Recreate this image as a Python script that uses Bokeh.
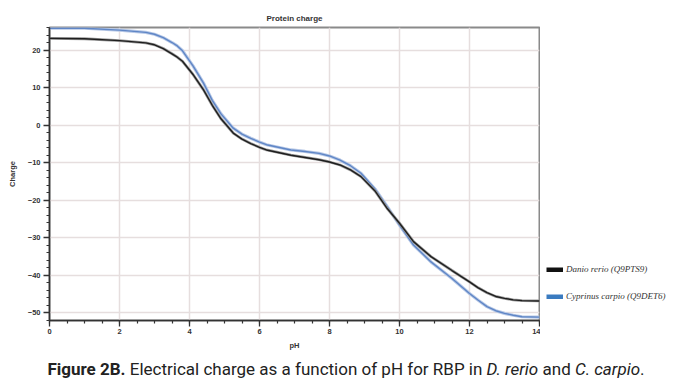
from bokeh.plotting import figure
from bokeh.models import (Range1d, FixedTicker, Legend, LegendItem, ColumnDataSource, Div)
from bokeh.layouts import column, row
from bokeh.embed import file_html
from bokeh.resources import INLINE

# ---- data ----
ph = [0, 1, 2, 2.5, 2.75, 3, 3.25, 3.5, 3.65, 3.8, 4.1, 4.4, 4.65, 4.9, 5.25,
      5.5, 5.75, 6.0, 6.2, 6.9, 7.3, 7.7, 8.0, 8.3, 8.6, 8.9, 9.3, 9.65, 10,
      10.4, 10.9, 11.5, 12, 12.25, 12.5, 12.75, 13, 13.25, 13.5, 14]
danio = [23.1, 23.0, 22.5, 22.1, 21.9, 21.4, 20.4, 19.0, 18.1, 17.0, 13.5,
         9.4, 5.3, 1.7, -2.1, -3.7, -4.9, -5.9, -6.6, -8.0, -8.6, -9.2, -9.8,
         -10.6, -11.9, -13.7, -17.5, -22.2, -26.1, -31.0, -35.0, -38.7, -41.7,
         -43.3, -44.6, -45.6, -46.1, -46.5, -46.7, -46.8]
cyprinus = [25.8, 25.8, 25.3, 24.9, 24.7, 24.2, 23.3, 22.0, 21.1, 19.8, 15.8,
            11.2, 6.6, 3.0, -0.8, -2.4, -3.5, -4.5, -5.2, -6.6, -7.0, -7.5,
            -8.2, -9.3, -10.8, -12.8, -17.0, -21.7, -26.6, -31.9, -36.4, -40.8,
            -44.8, -46.6, -48.3, -49.4, -50.1, -50.6, -51.0, -51.1]
x_ticks = [0, 2, 4, 6, 8, 10, 12, 14]
y_ticks = [-50, -40, -30, -20, -10, 0, 10, 20]
series_names = ["Danio rerio (Q9PTS9)", "Cyprinus carpio (Q9DET6)"]

p = figure(output_backend="svg", toolbar_location=None,
           frame_width=490, frame_height=293,
           min_border_left=49, min_border_right=1,
           min_border_top=27, min_border_bottom=36,
           x_range=Range1d(0, 14), y_range=Range1d(-52, 26),
           title="Protein charge")

p.title.align = "center"
p.title.text_font = "Liberation Sans"
p.title.text_font_size = "8px"
p.title.text_font_style = "bold"
p.title.text_color = "#333333"
p.title.offset = 0
p.title.standoff = 9

p.outline_line_color = "#8a8a8a"
p.outline_line_width = 2

for g in (p.xgrid[0], p.ygrid[0]):
    g.grid_line_color = "#e6dede"
    g.grid_line_width = 1.5

p.xaxis.ticker = FixedTicker(ticks=x_ticks,
                             minor_ticks=[i * 0.5 for i in range(29)])
p.yaxis.ticker = FixedTicker(ticks=y_ticks,
                             minor_ticks=list(range(-52, 27, 2)))
p.xaxis.axis_label = "pH"
p.yaxis.axis_label = "Charge"
for ax in (p.xaxis[0], p.yaxis[0]):
    ax.axis_line_color = "#333333"
    ax.axis_line_width = 1.5
    ax.major_tick_line_color = "#333333"
    ax.major_tick_line_width = 1.3
    ax.minor_tick_line_color = "#333333"
    ax.minor_tick_line_width = 1.2
    ax.major_tick_in = 0
    ax.major_tick_out = 6
    ax.minor_tick_in = 0
    ax.minor_tick_out = 3
    ax.major_label_text_font = "Liberation Sans"
    ax.major_label_text_font_size = "7.5px"
    ax.major_label_text_font_style = "bold"
    ax.major_label_text_color = "#333333"
    ax.axis_label_text_font = "Liberation Sans"
    ax.axis_label_text_font_size = "7.5px"
    ax.axis_label_text_font_style = "bold"
    ax.axis_label_text_color = "#333333"
p.xaxis.major_label_standoff = 2
p.xaxis.axis_label_standoff = 4
p.yaxis.major_label_standoff = 3
p.yaxis.axis_label_standoff = 8

src = ColumnDataSource(dict(ph=ph, danio=danio, cyprinus=cyprinus))
p.line("ph", "cyprinus", source=src, line_color="#b7c8e6", line_width=3.2)
p.line("ph", "cyprinus", source=src, line_color="#5f86c6", line_width=1.4)
p.line("ph", "danio", source=src, line_color="#9a9a9a", line_width=2.8)
p.line("ph", "danio", source=src, line_color="#1e1e1e", line_width=1.4)

# legend lives in a small companion figure to the right of the plot frame
lf = figure(output_backend="svg", toolbar_location=None,
            width=137, height=356, min_border=0,
            x_range=Range1d(100, 101), y_range=Range1d(100, 101))
lf.axis.visible = False
lf.grid.visible = False
lf.outline_line_color = None
sw1 = lf.line("ph", "danio", source=src, line_color="#111111", line_width=5)
sw2 = lf.line("ph", "cyprinus", source=src, line_color="#3a7bc0", line_width=5)

legend = Legend(items=[LegendItem(label=series_names[0], renderers=[sw1]),
                       LegendItem(label=series_names[1], renderers=[sw2])],
                location=(6, 19), orientation="vertical",
                glyph_width=17, glyph_height=5, label_height=10,
                label_standoff=3, spacing=17, padding=0, margin=0,
                border_line_color=None, background_fill_alpha=0)
legend.label_text_font = "Liberation Serif"
legend.label_text_font_style = "italic"
legend.label_text_font_size = "9px"
legend.label_text_color = "#333333"
lf.add_layout(legend)

caption = Div(width=676, height=32, text=(
    '<div style="width:664px;text-align:center;font-family:\'Liberation Sans Narrow\','
    '\'Arial Narrow\',\'Roboto\',sans-serif;font-size:17px;color:#222;'
    'position:relative;left:9px;top:-4px;white-space:nowrap">'
    '<b>Figure 2B.</b> Electrical charge as a function of pH for RBP in '
    '<i>D. rerio</i> and <i>C. carpio</i>.</div>'))

layout = column(row(p, lf, spacing=0), caption, spacing=0)
open("out.html", "w").write(file_html(layout, INLINE))
